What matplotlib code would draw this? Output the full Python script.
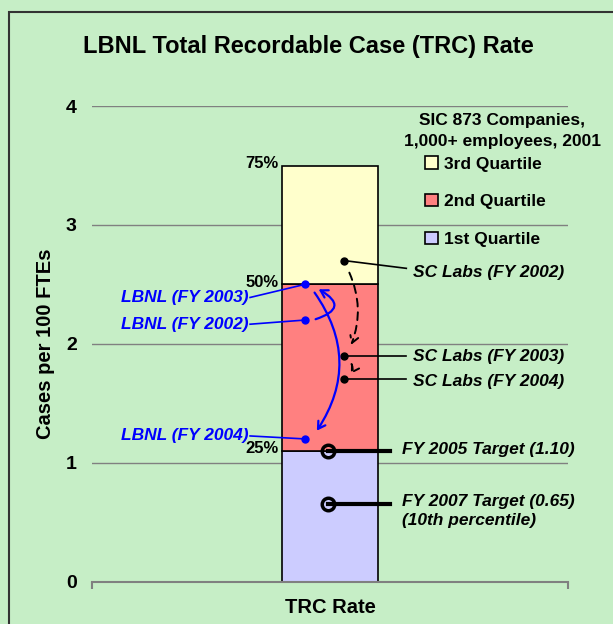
import matplotlib.pyplot as plt
from matplotlib.patches import Rectangle, FancyArrowPatch

plt.rcParams['font.family'] = ['Liberation Sans', 'DejaVu Sans']

# quartile boxes (SIC 873 companies, 2001)
quartile_names = ['1st Quartile', '2nd Quartile', '3rd Quartile']
quartile_bounds = [0.0, 1.1, 2.5, 3.5]
quartile_colors = ['#ccccff', '#ff8080', '#ffffcc']
percent_labels = ['25%', '50%', '75%']

lbnl_labels = ['LBNL (FY 2002)', 'LBNL (FY 2003)', 'LBNL (FY 2004)']
lbnl_rates = [2.2, 2.5, 1.2]
sc_labels = ['SC Labs (FY 2002)', 'SC Labs (FY 2003)', 'SC Labs (FY 2004)']
sc_rates = [2.7, 1.9, 1.7]
target_labels = ['FY 2005 Target (1.10)', 'FY 2007 Target (0.65)\n(10th percentile)']
target_rates = [1.10, 0.65]

bg = '#c6eec6'
fs = 12.5
fig = plt.figure(figsize=(6.13, 6.24), dpi=100, facecolor=bg)
fig.patches.append(Rectangle((0.014, -0.1), 1.2, 1.081, transform=fig.transFigure,
                             fill=False, edgecolor='#333333', lw=1.5))
ax = fig.add_axes([0.150, 0.068, 0.777, 0.762])
ax.set_facecolor('none')

bars = []
for i in range(3):
    b = ax.bar(0, quartile_bounds[i + 1] - quartile_bounds[i], bottom=quartile_bounds[i],
               width=0.2, color=quartile_colors[i], edgecolor='black', lw=1.2,
               label=quartile_names[i], zorder=2)
    bars.append(b)
    ax.text(-0.108, quartile_bounds[i + 1] + 0.02, percent_labels[i], ha='right', va='center',
            fontsize=12, fontweight='bold', zorder=3)

ax.set_xlim(-0.5, 0.5)
ax.set_ylim(0, 4)
ax.set_yticks([0, 1, 2, 3, 4])
ax.set_yticklabels(['0', '1', '2', '3', '4'], fontsize=14, fontweight='bold')
ax.tick_params(axis='y', length=0, pad=11)
ax.set_xticks([-0.5, 0.5])
ax.set_xticklabels(['', ''])
ax.tick_params(axis='x', length=5, width=1.5, color='#808080', direction='out')
ax.yaxis.grid(True, color='#808080', lw=1)
ax.set_axisbelow(True)
for s in ['left', 'right', 'top']:
    ax.spines[s].set_visible(False)
ax.spines['bottom'].set_color('#808080')
ax.spines['bottom'].set_linewidth(1.5)

ax.set_xlabel('TRC Rate', fontsize=14.5, fontweight='bold', labelpad=3)
ax.set_ylabel('Cases per 100 FTEs', fontsize=14.5, fontweight='bold', labelpad=8)
fig.text(0.503, 0.925, 'LBNL Total Recordable Case (TRC) Rate', ha='center', va='center',
         fontsize=17, fontweight='bold')

# LBNL points
lx = -0.053
ltext_x = -0.168
ltext_y = [2.165, 2.39, 1.225]
blue = '#0000ff'
ax.plot([lx] * 3, lbnl_rates, 'o', color=blue, ms=5, zorder=5)
for lab, r, ty in zip(lbnl_labels, lbnl_rates, ltext_y):
    ax.plot([ltext_x, lx], [ty, r], color=blue, lw=1.2, zorder=4)
    ax.text(ltext_x - 0.004, ty, lab, ha='right', va='center', color=blue,
            fontsize=fs, fontweight='bold', style='italic', zorder=5)

ax.add_patch(FancyArrowPatch((-0.036, lbnl_rates[0]), (-0.029, lbnl_rates[1] - 0.03),
                             connectionstyle='arc3,rad=1.2', arrowstyle='->,head_length=5,head_width=3',
                             color=blue, lw=1.6, zorder=6))
ax.add_patch(FancyArrowPatch((-0.036, lbnl_rates[1] - 0.05), (-0.031, lbnl_rates[2] + 0.05),
                             connectionstyle='arc3,rad=-0.35', arrowstyle='->,head_length=5,head_width=3',
                             color=blue, lw=1.6, zorder=6))

# SC Labs points
sx = 0.03
stext_x = 0.174
stext_y = [2.60, 1.89, 1.685]
ax.plot([sx] * 3, sc_rates, 'o', color='black', ms=5, zorder=5)
for lab, r, ty in zip(sc_labels, sc_rates, stext_y):
    ax.plot([sx, stext_x - 0.014], [r, ty + 0.035 if r > 2.5 else r], color='black', lw=1.2, zorder=4)
    ax.text(stext_x, ty, lab, ha='left', va='center', color='black',
            fontsize=fs, fontweight='bold', style='italic', zorder=5)

ax.add_patch(FancyArrowPatch((0.038, sc_rates[0] - 0.08), (0.042, sc_rates[1] + 0.07),
                             connectionstyle='arc3,rad=-0.22', arrowstyle='->,head_length=5,head_width=3',
                             color='black', lw=1.4, ls=(0, (4, 3)), zorder=6))
ax.add_patch(FancyArrowPatch((0.042, sc_rates[1] - 0.05), (0.040, sc_rates[2] + 0.03),
                             connectionstyle='arc3,rad=-0.4', arrowstyle='->,head_length=5,head_width=3',
                             color='black', lw=1.4, ls=(0, (3, 2)), zorder=6))

# targets
tx = -0.004
ttext_x = 0.151
for lab, r in zip(target_labels, target_rates):
    ax.plot([tx, 0.126], [r, r], color='black', lw=3, zorder=4)
    ax.plot(tx, r, 'o', mfc='none', mec='black', mew=2.5, ms=9, zorder=5)
    if '\n' in lab:
        ax.text(ttext_x, r + 0.09, lab, ha='left', va='top', color='black', fontsize=fs,
                fontweight='bold', style='italic', linespacing=1.4, zorder=5)
    else:
        ax.text(ttext_x, r + 0.01, lab, ha='left', va='center', color='black', fontsize=fs,
                fontweight='bold', style='italic', zorder=5)

# legend
ax.text(0.861, 0.948, 'SIC 873 Companies,\n1,000+ employees, 2001', transform=ax.transAxes,
        ha='center', va='center', multialignment='center', fontsize=fs, fontweight='bold',
        linespacing=1.5)
leg = ax.legend(handles=bars[::-1], loc='upper left', bbox_to_anchor=(0.70, 0.894),
                frameon=False, prop={'weight': 'bold', 'size': fs},
                handlelength=0.7, handleheight=0.7, handletextpad=0.4, labelspacing=1.3,
                borderpad=0, borderaxespad=0)

fig.savefig('out.png', dpi=100, facecolor=bg)
